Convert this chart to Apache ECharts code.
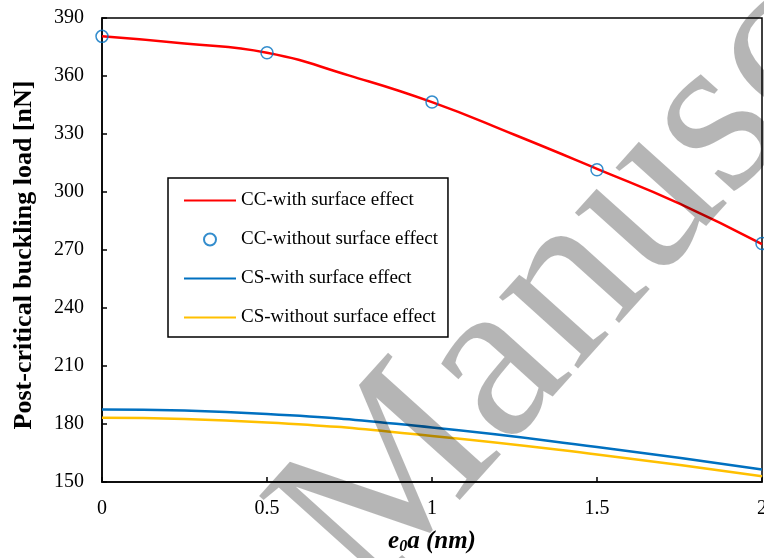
<!DOCTYPE html>
<html>
<head>
<meta charset="utf-8">
<script src="https://cdn.jsdelivr.net/npm/echarts@6/dist/echarts.min.js"></script>
<style>html,body{margin:0;padding:0;background:#fff;overflow:hidden}#c{width:764px;height:558px}</style>
</head>
<body>
<div id="c"></div>
<script>
// Data
var xTicks = [0, 0.5, 1, 1.5, 2];
var yTicks = [150, 180, 210, 240, 270, 300, 330, 360, 390];
var ccWithX = [0, 0.25, 0.5, 0.75, 1, 1.25, 1.5, 1.75, 2];
var ccWithY = [380.5, 376.8, 372, 360.2, 346.5, 329.6, 312, 294, 273];
var ccWithoutX = [0, 0.5, 1, 1.5, 2];
var ccWithoutY = [380.5, 372, 346.5, 311.5, 273.4];
var csX = [0, 0.5, 1, 1.5, 2];
var csWithY = [187.5, 185.2, 178.2, 168.1, 156.5];
var csWithoutY = [183.2, 180.8, 173.8, 164.2, 153];
var seriesNames = ['CC-with surface effect', 'CC-without surface effect', 'CS-with surface effect', 'CS-without surface effect'];
var watermarkText = 'Manuscript';

function pairs(xs, ys) { return xs.map(function (x, i) { return [x, ys[i]]; }); }

var FONT = '"Liberation Serif", "Times New Roman", serif';
var hideSym = { opacity: 0 };
var chart = echarts.init(document.getElementById('c'));
chart.setOption({
  animation: false,
  backgroundColor: '#fff',
  textStyle: { fontFamily: FONT },
  grid: { left: 102, right: 2, top: 18, bottom: 76, outerBoundsMode: 'none', containLabel: false,
          show: true, borderColor: '#000', borderWidth: 1.5, backgroundColor: 'transparent' },
  legend: {
    orient: 'vertical', left: 168, top: 178,
    backgroundColor: '#fff', borderColor: '#000', borderWidth: 1.5, borderRadius: 0,
    padding: [13, 10, 10, 15], itemGap: 20, itemWidth: 52, itemHeight: 12,
    textStyle: { fontFamily: FONT, fontSize: 19, color: '#000' },
    data: [
      { name: seriesNames[0], itemStyle: hideSym },
      { name: seriesNames[1] },
      { name: seriesNames[2], itemStyle: hideSym },
      { name: seriesNames[3], itemStyle: hideSym }
    ]
  },
  xAxis: {
    type: 'value', min: xTicks[0], max: xTicks[xTicks.length - 1], interval: 0.5,
    splitLine: { show: false },
    axisLine: { lineStyle: { color: '#000', width: 1.5 } },
    axisTick: { inside: true, length: 5, lineStyle: { color: '#000', width: 1.5 } },
    axisLabel: { fontFamily: FONT, fontSize: 20, color: '#000', margin: 17 },
    name: '{b|e}{s|0}{b|a (nm)}', nameLocation: 'middle', nameGap: 47,
    nameTextStyle: {
      rich: {
        b: { fontFamily: FONT, fontSize: 25, fontWeight: 'bold', fontStyle: 'italic', color: '#000', lineHeight: 26, verticalAlign: 'top' },
        s: { fontFamily: FONT, fontSize: 16, fontWeight: 'bold', fontStyle: 'italic', color: '#000', lineHeight: 26, verticalAlign: 'bottom', padding: [10, 0, 0, 0] }
      }
    }
  },
  yAxis: {
    type: 'value', min: yTicks[0], max: yTicks[yTicks.length - 1], interval: 30,
    splitLine: { show: false },
    axisLine: { lineStyle: { color: '#000', width: 1.5 } },
    axisTick: { inside: true, length: 5, lineStyle: { color: '#000', width: 1.5 } },
    axisLabel: { fontFamily: FONT, fontSize: 20, color: '#000', margin: 18, padding: [6, 0, 0, 0] },
    name: 'Post-critical buckling load [nN]', nameLocation: 'middle', nameGap: 65,
    nameTextStyle: { fontFamily: FONT, fontSize: 26, fontWeight: 'bold', color: '#000', padding: [0, 10, 0, 0] }
  },
  series: [
    { name: seriesNames[0], type: 'line', data: pairs(ccWithX, ccWithY), smooth: true, symbol: 'none',
      lineStyle: { color: '#FF0000', width: 2.5 }, itemStyle: { color: '#FF0000' }, z: 3 },
    { name: seriesNames[1], type: 'scatter', data: pairs(ccWithoutX, ccWithoutY), symbol: 'circle', symbolSize: 12,
      itemStyle: { color: 'rgba(255,255,255,0)', borderColor: '#0070C0', borderWidth: 1.5 }, z: 4 },
    { name: seriesNames[2], type: 'line', data: pairs(csX, csWithY), smooth: true, symbol: 'none',
      lineStyle: { color: '#0070C0', width: 2.5 }, itemStyle: { color: '#0070C0' }, z: 3 },
    { name: seriesNames[3], type: 'line', data: pairs(csX, csWithoutY), smooth: true, symbol: 'none',
      lineStyle: { color: '#FFC000', width: 2.5 }, itemStyle: { color: '#FFC000' }, z: 2 }
  ],
  graphic: [{
    type: 'text', x: 236, y: 484, rotation: 48 * Math.PI / 180, z: 100, silent: true,
    style: { text: watermarkText, font: '232px "Liberation Serif"', fill: 'rgba(0,0,0,0.29)', textAlign: 'left', textVerticalAlign: 'alphabetic' }
  }]
});
</script>
</body>
</html>
